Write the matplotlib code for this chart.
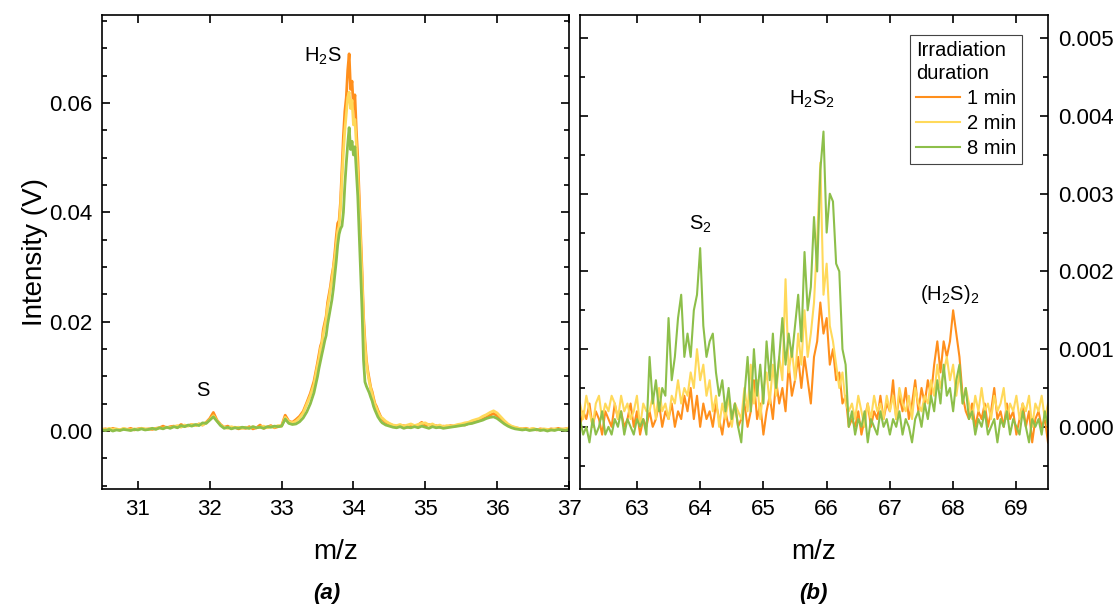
import numpy as np
import matplotlib
matplotlib.use('Agg')
import matplotlib.pyplot as plt
from matplotlib.ticker import MultipleLocator

plt.rcParams['font.family'] = ['Liberation Sans', 'DejaVu Sans']
plt.rcParams['mathtext.fontset'] = 'custom'
plt.rcParams['mathtext.rm'] = 'Liberation Sans'
plt.rcParams['mathtext.it'] = 'Liberation Sans:italic'
plt.rcParams['mathtext.bf'] = 'Liberation Sans:bold'

# panel (a): m/z 30.5 - 37, values in mV
mz_a = np.concatenate([np.linspace(30.50, 33.45, 60),
                       np.linspace(33.50, 34.38, 45),
                       np.linspace(34.40, 37.00, 53)])

a_1min = [
    0.3, 0.4, 0.2, 0.5, 0.3, 0.2, 0.4, 0.3, 0.5, 0.2,
    0.4, 0.5, 0.3, 0.4, 0.3, 0.5, 0.6, 0.9, 0.6, 0.8,
    0.9, 0.7, 1.2, 0.9, 1.0, 1.2, 1.0, 1.3, 1.1, 1.6,
    2.3, 3.4, 2.0, 1.2, 0.7, 0.9, 0.5, 0.7, 0.4, 0.6,
    0.5, 0.8, 0.4, 0.6, 1.1, 0.5, 0.7, 1.0, 0.6, 0.8,
    1.0, 2.9, 1.8, 1.6, 2.1, 2.7, 3.6, 5.2, 6.9, 9.1,
    12.5, 14.0, 15.5, 16.3, 18.6, 19.8, 21.0, 23.5, 25.0, 26.5,
    28.5, 30.0, 32.5, 35.5, 38.0, 38.5, 42.0, 48.0, 54.0, 58.5,
    61.0, 66.0, 69.0, 62.5, 64.0, 59.0, 61.5, 55.0, 50.0, 43.0,
    36.0, 29.0, 21.0, 16.5, 13.0, 11.0, 9.5, 8.0, 7.2, 6.0,
    5.0, 4.5, 3.8, 3.2, 2.6,
    2.2, 1.6, 1.3, 1.0, 0.9, 0.8, 1.0, 0.7, 0.9, 0.8,
    1.1, 1.6, 0.9, 1.2, 0.8, 1.0, 0.7, 0.9, 0.8, 1.0,
    0.9, 1.0, 1.2, 1.1, 1.4, 1.5, 1.8, 1.9, 2.2, 2.5,
    2.9, 3.2, 2.8, 2.2, 1.6, 1.1, 0.8, 0.6, 0.5, 0.4,
    0.5, 0.3, 0.4, 0.2, 0.4, 0.3, 0.2, 0.4, 0.3, 0.5,
    0.3, 0.4, 0.5,
]
a_2min = [
    0.4, 0.2, 0.5, 0.3, 0.4, 0.2, 0.5, 0.3, 0.2, 0.4,
    0.3, 0.5, 0.4, 0.3, 0.5, 0.4, 0.6, 0.5, 0.7, 0.6,
    0.8, 1.0, 0.7, 1.1, 0.9, 1.2, 1.0, 1.3, 1.1, 1.5,
    2.1, 2.8, 1.9, 1.1, 0.7, 0.5, 0.8, 0.6, 0.7, 0.5,
    0.7, 0.5, 0.8, 0.6, 0.7, 0.9, 0.6, 0.8, 0.7, 1.0,
    0.9, 2.5, 1.7, 1.5, 1.8, 2.4, 3.3, 4.9, 6.5, 8.5,
    12.0, 13.2, 15.0, 16.0, 17.8, 19.2, 20.5, 22.8, 24.2, 26.0,
    27.5, 29.8, 31.5, 34.0, 36.5, 37.5, 41.0, 46.0, 51.0, 55.0,
    58.0, 61.0, 62.0, 59.0, 60.5, 56.0, 57.0, 52.5, 47.0, 41.0,
    34.5, 27.5, 20.0, 15.5, 12.5, 10.5, 9.0, 7.8, 6.8, 5.6,
    4.8, 4.2, 3.5, 3.0, 2.4,
    2.4, 1.8, 1.4, 1.1, 1.0, 1.2, 0.9, 1.1, 1.3, 1.0,
    1.2, 1.4, 1.5, 1.1, 1.3, 0.9, 1.1, 0.8, 1.0, 0.9,
    1.0, 1.2, 1.3, 1.5, 1.6, 1.9, 2.1, 2.3, 2.7, 3.0,
    3.4, 3.7, 3.3, 2.6, 1.9, 1.3, 0.9, 0.7, 0.5, 0.4,
    0.4, 0.3, 0.5, 0.3, 0.2, 0.4, 0.3, 0.2, 0.4, 0.3,
    0.4, 0.3, 0.6,
]
a_8min = [
    0.2, 0.1, 0.3, 0.0, 0.2, 0.1, 0.3, 0.2, 0.1, 0.3,
    0.2, 0.4, 0.2, 0.3, 0.5, 0.3, 0.6, 0.4, 0.7, 0.5,
    0.8, 0.6, 1.0, 0.8, 1.1, 0.9, 1.2, 1.0, 1.5, 1.4,
    2.0, 2.6, 1.8, 1.0, 0.5, 0.7, 0.4, 0.6, 0.5, 0.7,
    0.6, 0.5, 0.8, 0.6, 0.7, 0.5, 0.8, 0.7, 0.9, 0.8,
    0.9, 2.2, 1.4, 1.2, 1.3, 1.7, 2.4, 3.5, 5.0, 7.0,
    10.0, 11.5, 12.8, 14.0, 15.2, 16.5, 17.5, 19.5, 21.0, 22.5,
    24.0, 26.0, 28.5, 31.0, 34.0, 36.0, 37.0, 37.5, 40.0, 45.0,
    49.0, 52.5, 55.5, 51.5, 53.0, 50.5, 52.0, 47.5, 43.0, 36.0,
    29.0, 22.0, 13.0, 9.0, 8.2, 7.6, 7.0, 6.2, 5.5, 4.5,
    3.8, 3.2, 2.6, 2.2, 1.8,
    1.5, 1.1, 0.9, 0.7, 0.6, 0.8, 0.5, 0.7, 0.6, 0.8,
    0.6, 0.9, 0.7, 0.5, 0.8, 0.6, 0.7, 0.5, 0.6, 0.7,
    0.8, 0.9, 1.0, 1.1, 1.3, 1.4, 1.6, 1.8, 2.0, 2.3,
    2.5, 2.6, 2.3, 1.8, 1.3, 0.9, 0.6, 0.4, 0.3, 0.2,
    0.3, 0.1, 0.2, 0.3, 0.1, 0.2, 0.0, 0.2, 0.1, 0.3,
    0.2, 0.1, 0.3,
]

# panel (b): m/z 62.1 - 69.5, values in mV
mz_b = np.linspace(62.10, 69.50, 149)

b_1min = [
    0.0, 0.2, 0.1, 0.3, 0.0, 0.2, 0.1, -0.1, 0.2, 0.1, 0.0, 0.3, 0.1, 0.2, 0.0, 0.1, 0.3, 0.0, 0.2, -0.1, 0.1, 0.0,
    0.2, 0.0, 0.1, 0.3, 0.0, 0.2, 0.1, 0.3, 0.0, 0.2, 0.1, 0.4, 0.2, 0.5, 0.1, 0.4, 0.0, 0.3, 0.1, 0.2, 0.0, 0.3,
    0.1, -0.1, 0.2, 0.0, 0.1, 0.3, 0.0,
    0.1, 0.3, 0.0, 0.2, 0.6, 0.1, 0.3, -0.1, 0.2, 0.4, 0.1, 0.6, 0.3, 0.5, 0.2, 0.8, 0.4, 0.6, 0.9, 0.5, 0.9, 0.6,
    0.3, 0.9, 1.1, 1.6, 1.2, 1.4, 0.8, 1.0, 0.6, 0.7, 0.3, 0.4, 0.0,
    0.1, 0.0, 0.2, -0.1, 0.1, 0.3, 0.0, 0.2, 0.1, 0.4, 0.1, 0.3,
    0.2, 0.6, 0.1, 0.4, 0.2, 0.5, 0.1, 0.3, 0.6, 0.2, 0.5, 0.3, 0.6, 0.4, 0.8, 1.1, 0.7, 1.1, 0.9, 1.1, 1.5, 1.2,
    0.9, 0.4, 0.2,
    0.1, 0.3, 0.0, 0.2, 0.1, 0.3, 0.0, 0.2, 0.5, 0.1, 0.2, 0.0, 0.3, 0.1, 0.2, -0.1, 0.1, 0.3, 0.0, 0.2, -0.2, 0.1,
    0.2, 0.0, 0.1, -0.2,
]
b_2min = [
    0.3, 0.1, 0.4, 0.2, 0.0, 0.3, 0.4, 0.1, 0.3, 0.2, 0.4, 0.3, 0.1, 0.4, 0.2, 0.3, 0.1, 0.2, 0.4, 0.0, 0.3, 0.2,
    0.2, 0.4, 0.1, 0.5, 0.2, 0.3, 0.1, 0.4, 0.3, 0.6, 0.3, 0.5, 0.4, 0.7, 0.5, 1.0, 0.6, 0.8, 0.4, 0.6, 0.2, 0.4,
    0.0, 0.3, 0.1, 0.4, 0.0, 0.3, 0.2,
    0.1, 0.5, 0.2, 0.8, 0.3, 0.6, 0.1, 0.5, 0.7, 0.3, 0.8, 0.4, 0.9, 0.6, 1.9, 0.7, 1.0, 0.6, 1.2, 0.8, 1.5, 0.9,
    1.2, 1.6, 2.4, 3.4, 1.7, 2.1, 1.3, 1.1, 0.8, 0.5, 0.7, 0.3, 0.2,
    0.3, 0.1, 0.4, 0.2, 0.0, 0.3, 0.1, 0.4, 0.2, 0.3, 0.1, 0.4,
    0.2, 0.4, 0.1, 0.5, 0.3, 0.2, 0.4, 0.1, 0.5, 0.3, 0.2, 0.4, 0.3, 0.6, 0.4, 0.8, 0.5, 0.7, 0.9, 0.6, 0.8, 0.4,
    0.7, 0.3, 0.5,
    0.3, 0.1, 0.4, 0.2, 0.5, 0.2, 0.3, 0.1, 0.4, 0.2, 0.3, 0.5, 0.1, 0.3, 0.2, 0.4, 0.1, 0.3, 0.2, 0.4, 0.0, 0.3,
    0.2, 0.4, 0.1, 0.3,
]
b_8min = [
    0.1, -0.1, 0.0, -0.2, 0.1, -0.1, 0.0, 0.2, -0.1, 0.0, -0.1, 0.1, 0.0, 0.2, -0.1, 0.1, 0.0, -0.1, 0.1, 0.0,
    0.1, -0.1,
    0.9, 0.3, 0.6, 0.2, 0.5, 0.4, 1.4, 0.6, 0.9, 1.4, 1.7, 0.9, 1.2, 0.9, 1.5, 1.7, 2.3, 1.3, 0.9, 1.1, 1.2, 0.7,
    0.4, 0.6, 0.2, 0.5, 0.1, 0.3, 0.0,
    -0.2, 0.4, 0.9, 0.2, 1.0, 0.4, 0.8, 0.3, 1.1, 0.6, 1.2, 0.5, 0.9, 1.4, 0.8, 1.2, 0.9, 1.3, 1.7, 1.1, 2.25,
    1.5, 1.8, 2.7, 2.0, 3.3, 3.8, 2.5, 3.0, 2.9, 2.1, 2.0, 1.0, 0.8, 0.0,
    0.2, -0.1, 0.1, 0.0, 0.2, -0.2, 0.1, 0.0, -0.1, 0.2, 0.0, 0.1,
    -0.1, 0.1, 0.0, 0.2, -0.1, 0.1, 0.0, -0.2, 0.1, 0.2, 0.0, 0.3, 0.1, 0.4, 0.2, 0.6, 0.3, 0.8, 0.4, 0.5, 0.2,
    0.6, 0.8, 0.3, 0.5,
    0.1, 0.2, -0.1, 0.1, 0.0, 0.2, -0.1, 0.0, 0.1, -0.2, 0.1, 0.0, 0.2, -0.1, 0.1, 0.0, -0.1, 0.2, 0.0, -0.2,
    0.1, 0.0, 0.1, -0.1, 0.2, 0.0,
]

labels = ['1 min', '2 min', '8 min']
colors = ['#FF8F1C', '#FFD95A', '#8DBF4A']

fig = plt.figure(figsize=(11.17, 6.10), dpi=100)
ax1 = fig.add_axes([102 / 1117, 121 / 610, 467 / 1117, 474 / 610])
ax2 = fig.add_axes([580 / 1117, 121 / 610, 468 / 1117, 474 / 610])

for ys, lab, c in zip([a_1min, a_2min, a_8min], labels, colors):
    ax1.plot(mz_a, np.array(ys) / 1000, color=c, lw=2.0, label=lab)
for ys, lab, c in zip([b_1min, b_2min, b_8min], labels, colors):
    ax2.plot(mz_b, np.array(ys) / 1000, color=c, lw=1.5, label=lab)

ax1.set_xlim(30.5, 37)
ax1.set_ylim(-0.0106, 0.0761)
ax1.xaxis.set_major_locator(MultipleLocator(1))
ax1.yaxis.set_major_locator(MultipleLocator(0.02))
ax1.yaxis.set_minor_locator(MultipleLocator(0.005))
ax1.yaxis.set_major_formatter(matplotlib.ticker.FormatStrFormatter('%.2f'))

ax2.set_xlim(62.1, 69.5)
ax2.set_ylim(-0.0008, 0.0053)
ax2.xaxis.set_major_locator(MultipleLocator(1))
ax2.yaxis.set_major_locator(MultipleLocator(0.001))
ax2.yaxis.set_minor_locator(MultipleLocator(0.0005))
ax2.yaxis.set_major_formatter(matplotlib.ticker.FormatStrFormatter('%.3f'))

for ax in [ax1, ax2]:
    for s in ax.spines.values():
        s.set_linewidth(1.2)
    ax.tick_params(which='both', direction='in', top=True, bottom=True, left=True, right=True,
                   labelsize=16, width=1.2, pad=7)
    ax.tick_params(which='major', length=6)
    ax.tick_params(which='minor', length=3.5)
    ax.set_xlabel('m/z', fontsize=20, labelpad=14)

ax2.tick_params(which='both', labelleft=False, labelright=True)
ax1.set_ylabel('Intensity (V)', fontsize=20, labelpad=1)

ax1.text(33.57, 0.0686, 'H$_2$S', fontsize=14.5, ha='center', va='center')
ax1.text(31.91, 0.0074, 'S', fontsize=14.5, ha='center', va='center')
ax2.text(64.0, 0.0026, 'S$_2$', fontsize=14.5, ha='center', va='center')
ax2.text(65.77, 0.00422, 'H$_2$S$_2$', fontsize=14.5, ha='center', va='center')
ax2.text(67.95, 0.0017, '(H$_2$S)$_2$', fontsize=14.5, ha='center', va='center')

leg = ax2.legend(title='Irradiation\nduration', loc='upper right', bbox_to_anchor=(0.944, 0.958),
                 fontsize=14.5, title_fontsize=14.5, fancybox=False, edgecolor='#444444',
                 handlelength=2.2, handletextpad=0.3, borderaxespad=0, labelspacing=0.3,
                 borderpad=0.3, alignment='left', framealpha=1)
leg.get_frame().set_linewidth(0.8)
leg.get_title().set_linespacing(1.25)

fig.text(327 / 1117, 1 - 593 / 610, '(a)', fontsize=16, fontweight='bold', style='italic',
         ha='center', va='center')
fig.text(813 / 1117, 1 - 593 / 610, '(b)', fontsize=16, fontweight='bold', style='italic',
         ha='center', va='center')

fig.savefig('out.png', dpi=100)
